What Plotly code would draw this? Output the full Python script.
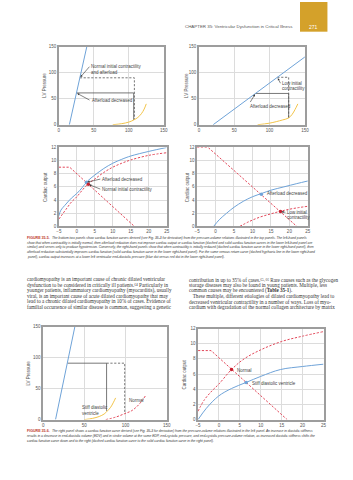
import plotly.graph_objects as go

W, H = 353, 480

# ---------------- data ----------------
# Panel 1 (top-left): normal contractility, LV pressure-volume
p1_espvr_x = [15, 40]
p1_espvr_y = [0, 150]
p1_edpvr_x = [77, 90, 100, 107, 113, 118, 122, 125]
p1_edpvr_y = [0, 2, 5, 9, 14, 21, 30, 40]
p1_box_normal_x = [30, 108, 108]
p1_box_normal_y = [90, 90, 10]
p1_box_dec_x = [25, 107, 107]
p1_box_dec_y = [61, 61, 9]

# Panel 2 (top-right): low contractility
p2_espvr_x = [20, 150]
p2_espvr_y = [0, 130]
p2_edpvr_x = [83, 100, 118, 127, 132, 136, 140]
p2_edpvr_y = [0, 3, 9, 13, 20, 29, 40]
p2_box_low_x = [111, 127, 127]
p2_box_low_y = [91, 91, 13]
p2_box_dec_x = [80, 127, 127]
p2_box_dec_y = [60, 60, 13]

# Panel 3 (middle-left): cardiac function curves, normal contractility
p3_dec_x = [-5, -4.5, -3, -1.5, 0, 1.5, 3, 5, 7.5, 10, 12.5, 15, 20, 25]
p3_dec_y = [1.6, 2.4, 3.4, 4.3, 5.0, 5.9, 6.9, 7.8, 8.8, 9.6, 10.2, 10.7, 11.4, 12.0]
p3_norm_x = [-5, -3, -1.5, 0, 1.5, 3, 5, 7.5, 10, 12.5, 15, 20, 25]
p3_norm_y = [1.1, 2.6, 3.7, 4.5, 5.5, 6.4, 7.2, 8.2, 9.0, 9.6, 10.1, 10.8, 11.2]
p3_vr_x = [-5, -2, 16]
p3_vr_y = [9, 9, 0]
p3_dot_dec = (2.7, 6.7)
p3_dot_norm = (3.2, 6.4)

# Panel 4 (middle-right): low contractility
p4_dec_x = [-0.5, 1, 3, 5, 7.5, 10, 12.5, 15, 18.5, 22, 25]
p4_dec_y = [0, 1.0, 2.0, 2.9, 3.8, 4.5, 5.0, 5.5, 6.0, 6.5, 6.9]
p4_low_x = [6.6, 9, 12, 15, 17.6, 20, 22.5, 25]
p4_low_y = [0, 0.7, 1.4, 1.9, 2.3, 2.6, 2.85, 3.05]
p4_vr_x = [-5, -2, 22]
p4_vr_y = [12, 12, 0]
p4_dot_dec = (12.4, 4.9)
p4_dot_low = (17.6, 2.25)

# Panel 5 (bottom-left): diastolic stiffness, pressure-volume
p5_espvr_x = [15, 38.5]
p5_espvr_y = [0, 150]
p5_stiff_x = [50, 60, 68, 74, 78, 82, 85, 88]
p5_stiff_y = [0, 2, 5, 9, 14, 20, 27, 35]
p5_norm_x = [76, 88, 99, 107, 113, 118, 121, 124]
p5_norm_y = [0, 4, 9.6, 14, 20, 27, 32, 38]
p5_box_stiff_x = [29.5, 77, 77]
p5_box_stiff_y = [91, 91, 14]
p5_box_norm_x = [77, 99, 99]
p5_box_norm_y = [91, 91, 9.6]

# Panel 6 (bottom-right): cardiac function curves, stiffness
p6_norm_x = [-5, -3.5, -1.65, 0, 3, 6, 10, 15, 20, 25]
p6_norm_y = [1.1, 2.6, 3.8, 4.7, 6.6, 8.0, 9.2, 10.3, 11.0, 11.6]
p6_stiff_x = [-5, -3, -0.1, 3, 6.5, 10, 14.7, 20, 25]
p6_stiff_y = [0, 1.5, 3.1, 4.1, 4.9, 5.7, 6.6, 7.0, 7.3]
p6_vr_x = [-5, -1.9, 16.3]
p6_vr_y = [9.1, 9.1, 0]
p6_dot_norm = (3, 6.6)
p6_dot_stiff = (6.5, 4.9)

pv_ticks = [0, 50, 100, 150]
co_xticks = [-5, 0, 5, 10, 15, 20, 25]
co_yticks = [0, 2, 4, 6, 8, 10, 12]

header_text = "CHAPTER 35: Ventricular Dysfunction in Critical Illness"
page_number = "271"

fig5_label = "FIGURE 35-5."
caption5 = [
    "The bottom two panels show cardiac function curves derived (see Fig. 35-3 for derivation) from the pressure-volume relations illustrated in the top panels. The left-hand panels",
    "show that when contractility is initially normal, then afterload reduction does not improve cardiac output or cardiac function (dashed and solid cardiac function curves in the lower left-hand panel are",
    "similar) and serves only to produce hypotension. Conversely, the right-hand panels show that when contractility is initially reduced (dashed cardiac function curve in the lower right-hand panel), then",
    "afterload reduction substantially improves cardiac function (solid cardiac function curve in the lower right-hand panel). For the same venous return curve (dashed hyphaeic line in the lower right-hand",
    "panel), cardiac output increases at a lower left ventricular end-diastolic pressure (blue dot versus red dot in the lower right-hand panel).",
]
fig6_label = "FIGURE 35-6."
caption6 = [
    "The right panel shows a cardiac function curve derived (see Fig. 35-3 for derivation) from the pressure-volume relations illustrated in the left panel. An increase in diastolic stiffness",
    "results in a decrease in end-diastolic volume (EDV) and in stroke volume at the same EDP, end-systolic pressure, and end-systolic pressure-volume relation, as increased diastolic stiffness shifts the",
    "cardiac function curve down and to the right (dashed cardiac function curve to the solid cardiac function curve in the right panel).",
]
body_left = [
    "cardiomyopathy is an important cause of chronic dilated ventricular",
    "dysfunction to be considered in critically ill patients.⁶⁴ Particularly in",
    "younger patients, inflammatory cardiomyopathy (myocarditis), usually",
    "viral, is an important cause of acute dilated cardiomyopathy that may",
    "lead to a chronic dilated cardiomyopathy in 10% of cases. Evidence of",
    "familial occurrence of similar disease is common, suggesting a genetic",
]
body_right = [
    "contribution in up to 35% of cases.⁶⁵˒⁶⁶ Rare causes such as the glycogen",
    "storage diseases may also be found in young patients. Multiple, less",
    "common causes may be encountered (<b>Table 35-1</b>).",
    "   These multiple, different etiologies of dilated cardiomyopathy lead to",
    "decreased ventricular contractility in a number of ways. Loss of myo-",
    "cardium with degradation of the normal collagen architecture by matrix",
]

# ---------------- styling ----------------
BLUE = "#6fa3d8"
RED = "#e2485a"
YEL = "#f2c44a"
BOX = "#555555"
GRID = "#dcdcdc"
FRAME = "#9d9d9d"
TXT = "#444444"
DASH = "2.2px,1.6px"

fig = go.Figure()

def px2x(p):
    return p / W

def px2y(p):
    return 1 - p / H

panels = [
    dict(n=1, px=(57, 164), py=(45, 124), xr=[0, 150], yr=[0, 150], xt=pv_ticks, yt=pv_ticks, title="LV Pressure", tx=42),
    dict(n=2, px=(200, 308), py=(45, 124), xr=[0, 150], yr=[0, 150], xt=pv_ticks, yt=pv_ticks, title="LV Pressure", tx=187),
    dict(n=3, px=(57, 167), py=(147, 226.7), xr=[-5, 25], yr=[0, 12], xt=co_xticks, yt=co_yticks, title="Cardiac output", tx=44),
    dict(n=4, px=(198, 311), py=(147, 226.7), xr=[-5, 25], yr=[0, 12], xt=co_xticks, yt=co_yticks, title="Cardiac output", tx=189),
    dict(n=5, px=(41, 167), py=(328, 422), xr=[0, 150], yr=[0, 150], xt=pv_ticks, yt=pv_ticks, title="LV Pressure", tx=26),
    dict(n=6, px=(199, 327), py=(330, 422), xr=[-5, 25], yr=[0, 12], xt=co_xticks, yt=co_yticks, title="Cardiac output", tx=185),
]
panel_by_n = {p["n"]: p for p in panels}

layout_axes = {}
annotations = []
for p in panels:
    n = p["n"]
    xa = "xaxis" if n == 1 else f"xaxis{n}"
    ya = "yaxis" if n == 1 else f"yaxis{n}"
    common = dict(showline=True, mirror=True, linecolor=FRAME, linewidth=1.5,
                  showgrid=True, gridcolor=GRID, gridwidth=0.8, zeroline=False,
                  ticks="", tickfont=dict(size=4.5, color="#555555", family="Liberation Sans"),
                  fixedrange=True)
    layout_axes[xa] = dict(common, domain=[px2x(p["px"][0]), px2x(p["px"][1])],
                           range=p["xr"], tickvals=p["xt"], anchor=f"y{'' if n == 1 else n}")
    layout_axes[ya] = dict(common, domain=[px2y(p["py"][1]), px2y(p["py"][0])],
                           range=p["yr"], tickvals=p["yt"], anchor=f"x{'' if n == 1 else n}")
    annotations.append(dict(xref="paper", yref="paper", x=px2x(p["tx"]),
                            y=px2y((p["py"][0] + p["py"][1]) / 2), text=p["title"],
                            textangle=-90, showarrow=False,
                            font=dict(size=4.5, color="#555555", family="Liberation Sans"),
                            xanchor="center", yanchor="middle"))

def line(n, x, y, color, dash="solid", width=1.0, shape="spline"):
    fig.add_trace(go.Scatter(x=x, y=y, mode="lines", xaxis=f"x{'' if n == 1 else n}",
                             yaxis=f"y{'' if n == 1 else n}",
                             line=dict(color=color, width=width, dash=dash, shape=shape),
                             showlegend=False, hoverinfo="skip"))

def dot(n, pt, color):
    fig.add_trace(go.Scatter(x=[pt[0]], y=[pt[1]], mode="markers", xaxis=f"x{'' if n == 1 else n}",
                             yaxis=f"y{'' if n == 1 else n}",
                             marker=dict(color=color, size=3.5, line=dict(width=0)),
                             showlegend=False, hoverinfo="skip"))

# Panel 1
line(1, p1_box_normal_x, p1_box_normal_y, BOX, DASH, 0.8, "linear")
line(1, p1_box_dec_x, p1_box_dec_y, BOX, "solid", 0.8, "linear")
line(1, p1_espvr_x, p1_espvr_y, BLUE, "solid", 1.0, "linear")
line(1, p1_edpvr_x, p1_edpvr_y, YEL, "solid", 1.0)
# Panel 2
line(2, p2_box_low_x, p2_box_low_y, BOX, DASH, 0.8, "linear")
line(2, p2_box_dec_x, p2_box_dec_y, BOX, "solid", 0.8, "linear")
line(2, p2_espvr_x, p2_espvr_y, BLUE, "solid", 1.0, "linear")
line(2, p2_edpvr_x, p2_edpvr_y, YEL, "solid", 1.0)
# Panel 3
line(3, p3_dec_x, p3_dec_y, BLUE, "solid", 1.0)
line(3, p3_norm_x, p3_norm_y, RED, DASH, 1.0)
line(3, p3_vr_x, p3_vr_y, RED, DASH, 1.0, "linear")
dot(3, p3_dot_dec, BLUE)
dot(3, p3_dot_norm, "#c8202f")
# Panel 4
line(4, p4_dec_x, p4_dec_y, BLUE, "solid", 1.0)
line(4, p4_low_x, p4_low_y, RED, DASH, 1.0)
line(4, p4_vr_x, p4_vr_y, RED, DASH, 1.0, "linear")
dot(4, p4_dot_dec, BLUE)
dot(4, p4_dot_low, "#c8202f")
# Panel 5
line(5, p5_box_norm_x, p5_box_norm_y, BOX, DASH, 0.8, "linear")
line(5, p5_box_stiff_x, p5_box_stiff_y, BOX, "solid", 0.8, "linear")
line(5, p5_espvr_x, p5_espvr_y, BLUE, "solid", 1.0, "linear")
line(5, p5_stiff_x, p5_stiff_y, YEL, "solid", 1.0)
line(5, p5_norm_x, p5_norm_y, RED, DASH, 1.0)
# Panel 6
line(6, p6_norm_x, p6_norm_y, RED, DASH, 1.0)
line(6, p6_vr_x, p6_vr_y, RED, DASH, 1.0, "linear")
line(6, p6_stiff_x, p6_stiff_y, BLUE, "solid", 1.0)
dot(6, p6_dot_norm, "#c8202f")
dot(6, p6_dot_stiff, BLUE)

LBL = dict(size=4.5, color=TXT, family="Liberation Sans")

def label(xp, yp, text, anchor="left"):
    annotations.append(dict(xref="paper", yref="paper", x=px2x(xp), y=px2y(yp), text=text,
                            showarrow=False, font=LBL, xanchor=anchor, yanchor="middle", align="left"))

def to_px(n, x, y):
    p = panel_by_n[n]
    (x0, x1), (y0, y1) = p["px"], p["py"]
    X = x0 + (x - p["xr"][0]) / (p["xr"][1] - p["xr"][0]) * (x1 - x0)
    Y = y1 - (y - p["yr"][0]) / (p["yr"][1] - p["yr"][0]) * (y1 - y0)
    return X, Y

def arrow_label(n, x, y, lx, ly, text):
    """Label whose left-middle sits at page pixel (lx, ly), with an arrow to data point (x, y)."""
    X, Y = to_px(n, x, y)
    annotations.append(dict(xref=f"x{'' if n == 1 else n}", yref=f"y{'' if n == 1 else n}", x=x, y=y,
                            ax=lx - X, ay=ly - Y, text=text, showarrow=True, arrowhead=2,
                            arrowsize=0.7, arrowwidth=0.6, arrowcolor="#333333", standoff=1,
                            xanchor="left", yanchor="middle", align="left", font=LBL))

# chart labels (each printed line is its own text)
arrow_label(1, 30, 90, 88, 65.5, "Normal initial contractility")
label(88, 71, "and afterload")
arrow_label(1, 25, 61, 88, 99, "Afterload decreased")
arrow_label(2, 111, 91, 283, 82, "Low initial")
label(283, 87.5, "contractility")
arrow_label(2, 80, 60, 250, 105, "Afterload decreased")
arrow_label(3, p3_dot_dec[0], p3_dot_dec[1], 99, 179, "Afterload decreased")
arrow_label(3, p3_dot_norm[0], p3_dot_norm[1], 99, 189, "Normal initial contractility")
label(267, 194, "Afterload decreased")
arrow_label(4, p4_dot_low[0], p4_dot_low[1], 288, 212.5, "Low initial")
label(288, 218.2, "contractility")
label(79, 410, "Stiff diastolic")
label(79, 415.5, "ventricle")
label(127, 403, "Normal")
label(237, 372, "Normal")
label(252, 386, "Stiff diastolic ventricle")

# page text
annotations.append(dict(xref="paper", yref="paper", x=px2x(298), y=px2y(25), text=header_text,
                        showarrow=False, xanchor="right", yanchor="middle",
                        font=dict(size=4.4, color="#555555", family="Liberation Sans")))
annotations.append(dict(xref="paper", yref="paper", x=px2x(317), y=px2y(25), text=page_number,
                        showarrow=False, xanchor="center", yanchor="middle",
                        font=dict(size=5, color="#ffffff", family="Liberation Sans")))

CAP = dict(size=3.3, color="#333333", family="Liberation Sans", style="italic")
FIGL = dict(size=3.6, color="#c0392b", family="Liberation Sans", weight="bold")

def caption(label_text, lines, y0, dy):
    annotations.append(dict(xref="paper", yref="paper", x=px2x(22), y=px2y(y0), text=label_text,
                            showarrow=False, xanchor="left", yanchor="middle", font=FIGL))
    for i, t in enumerate(lines):
        xs = 47.5 if i == 0 else 22
        annotations.append(dict(xref="paper", yref="paper", x=px2x(xs), y=px2y(y0 + i * dy), text=t,
                                showarrow=False, xanchor="left", yanchor="middle", font=CAP))

caption(fig5_label, caption5, 238.3, 4.75)
caption(fig6_label, caption6, 434, 4.8)

BODY = dict(size=5.1, color="#333333", family="Liberation Serif")
for i, t in enumerate(body_left):
    annotations.append(dict(xref="paper", yref="paper", x=px2x(22), y=px2y(280 + i * 5.6), text=t,
                            showarrow=False, xanchor="left", yanchor="middle", font=BODY))
for i, t in enumerate(body_right):
    annotations.append(dict(xref="paper", yref="paper", x=px2x(188), y=px2y(280.5 + i * 5.55), text=t,
                            showarrow=False, xanchor="left", yanchor="middle", font=BODY))

shapes = [dict(type="rect", xref="paper", yref="paper", x0=px2x(303), x1=px2x(331),
               y0=px2y(30), y1=px2y(0), fillcolor="#d4a12a", line=dict(width=0), layer="below")]

fig.update_layout(width=W, height=H, margin=dict(l=0, r=0, t=0, b=0),
                  paper_bgcolor="white", plot_bgcolor="white", showlegend=False,
                  annotations=annotations, shapes=shapes, **layout_axes)

fig.write_html("out.html", config={"displayModeBar": False})
